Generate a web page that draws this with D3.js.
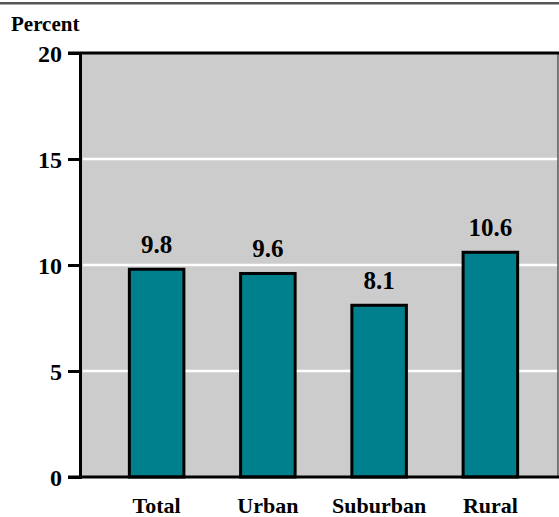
<!DOCTYPE html>
<html>
<head>
<meta charset="utf-8">
<script src="https://cdn.jsdelivr.net/npm/d3@7"></script>
<style>
  html, body { margin: 0; padding: 0; background: #fff; }
  svg { display: block; }
  svg text { font-family: "Liberation Serif", "DejaVu Serif", serif !important; font-weight: bold; fill: #000; }
</style>
</head>
<body>
<script>
// Share of people in each area type (percent)
const categories = ["Total", "Urban", "Suburban", "Rural"];
const values = [9.8, 9.6, 8.1, 10.6];
const yTicks = [0, 5, 10, 15, 20];
const yTitle = "Percent";

const W = 559, H = 517;
const plot = { left: 80, right: 558, top: 53, bottom: 477 };
const serif = "'Liberation Serif', 'DejaVu Serif', serif";

const svg = d3.select("body").append("svg")
  .attr("width", W).attr("height", H)
  .attr("font-family", serif);

// thin rule across the top of the figure
svg.append("rect")
  .attr("x", 0).attr("y", 2).attr("width", W).attr("height", 2.5)
  .attr("fill", "#555");

const y = d3.scaleLinear().domain([0, 20]).range([plot.bottom, plot.top]);
const x = d3.scaleBand().domain(categories)
  .range([101, 546]).paddingInner(0.51).paddingOuter(0.255);

// plot background
svg.append("rect")
  .attr("x", plot.left).attr("y", plot.top)
  .attr("width", plot.right - plot.left).attr("height", plot.bottom - plot.top)
  .attr("fill", "#cccccc");

// horizontal white gridlines
svg.append("g").selectAll("line")
  .data(yTicks.filter(t => t > 0 && t < 20))
  .join("line")
  .attr("x1", plot.left + 3).attr("x2", plot.right)
  .attr("y1", d => y(d)).attr("y2", d => y(d))
  .attr("stroke", "#fff").attr("stroke-width", 2.5);

// right edge of plot frame
svg.append("line")
  .attr("x1", plot.right).attr("x2", plot.right)
  .attr("y1", plot.top).attr("y2", plot.bottom)
  .attr("stroke", "#555").attr("stroke-width", 1.5);

// bars
svg.append("g").selectAll("rect")
  .data(values)
  .join("rect")
  .attr("x", (d, i) => x(categories[i]))
  .attr("y", d => y(d))
  .attr("width", x.bandwidth())
  .attr("height", d => y(0) - y(d))
  .attr("fill", "#00808c")
  .attr("stroke", "#000").attr("stroke-width", 3);

// value labels
svg.append("g").selectAll("text")
  .data(values)
  .join("text")
  .attr("x", (d, i) => x(categories[i]) + x.bandwidth() / 2)
  .attr("y", d => y(d) - 16)
  .attr("text-anchor", "middle")
  .attr("font-size", 25)
  .text(d => d.toFixed(1));

// y axis
const yAxis = d3.axisLeft(y).tickValues(yTicks).tickSize(12).tickPadding(6).tickFormat(d3.format("d"));
const gy = svg.append("g").attr("transform", `translate(${plot.left},0)`).call(yAxis)
  .attr("font-family", serif);
gy.select(".domain").attr("stroke", "#000").attr("stroke-width", 3);
gy.selectAll(".tick line").attr("stroke", "#000").attr("stroke-width", 3);
gy.selectAll(".tick text")
  .attr("font-size", 24).attr("fill", "#000").attr("dy", "0.34em");

// top frame line
svg.append("line")
  .attr("x1", plot.left - 12).attr("x2", W)
  .attr("y1", plot.top).attr("y2", plot.top)
  .attr("stroke", "#000").attr("stroke-width", 3);

// x axis baseline
svg.append("line")
  .attr("x1", plot.left - 12).attr("x2", plot.right + 1)
  .attr("y1", plot.bottom).attr("y2", plot.bottom)
  .attr("stroke", "#000").attr("stroke-width", 3);

// category labels
svg.append("g").selectAll("text")
  .data(categories)
  .join("text")
  .attr("x", d => x(d) + x.bandwidth() / 2)
  .attr("y", 513)
  .attr("text-anchor", "middle")
  .attr("font-size", 22)
  .text(d => d);

// y axis title
svg.append("text")
  .attr("x", 11).attr("y", 31)
  .attr("font-size", 21)
  .text(yTitle);
</script>
</body>
</html>
